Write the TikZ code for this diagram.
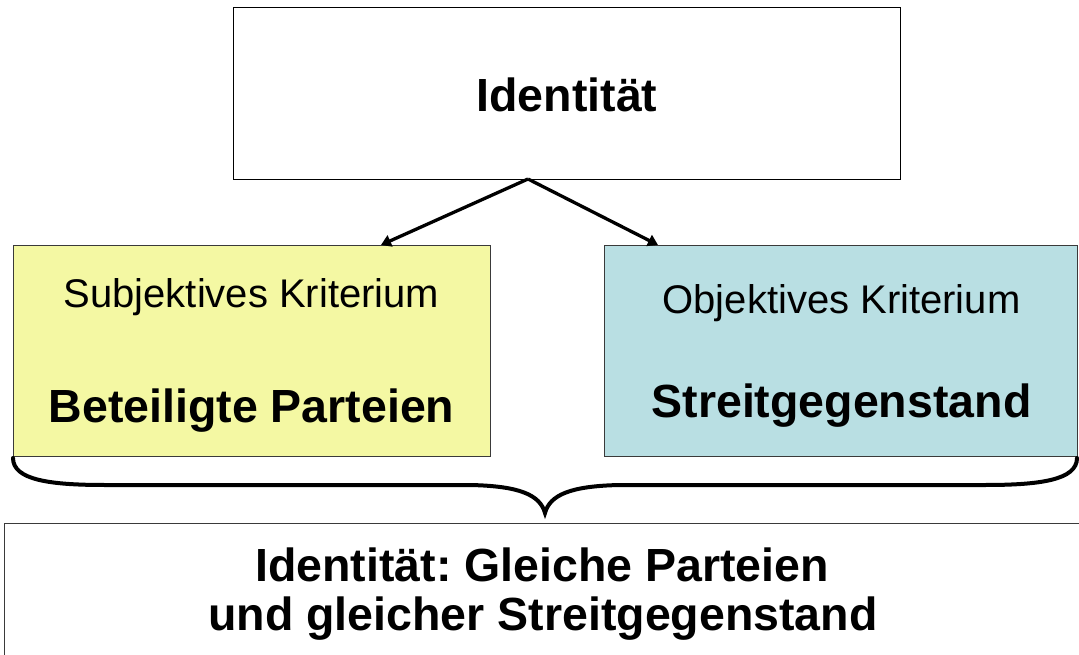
\documentclass[tikz,border=0pt]{standalone}
\usepackage{fontspec}
\setmainfont{Liberation Sans}
\usetikzlibrary{arrows.meta}
\frenchspacing
\definecolor{boxyellow}{HTML}{F4F8A3}
\definecolor{boxblue}{HTML}{B9DFE3}
\definecolor{edgegray}{HTML}{3A3A3A}
\tikzset{
  box/.style={draw=edgegray, line width=1.2pt, inner sep=0pt, anchor=north west},
  bigbold/.style={font=\fontsize{46.5}{50}\selectfont\bfseries, inner sep=0pt, anchor=base},
  normaltxt/.style={font=\fontsize{40}{44}\selectfont, inner sep=0pt, anchor=base},
  conn/.style={line width=3.3pt, -{Triangle[length=10pt,width=12pt]}},
  bracepath/.style={line width=4pt, line cap=round}
}
\begin{document}
\begin{tikzpicture}[x=1pt,y=-1pt]
\useasboundingbox[fill=white] (0,0) rectangle (1079,655);
% boxes
\node[box, draw=black, fill=white, minimum width=667pt, minimum height=172pt] (top) at (233,7) {};
\node[box, fill=boxyellow, minimum width=477pt, minimum height=211pt] (left) at (13,245) {};
\node[box, fill=boxblue, minimum width=473pt, minimum height=211pt] (right) at (604,245) {};
\node[box, fill=white, minimum width=1090pt, minimum height=150pt] (bottom) at (4,523) {};
% texts
\node[bigbold] (ttop) at (567,112) {Identität};
\node[normaltxt] (lsub) at (251.5,307) {Subjektives Kriterium};
\node[bigbold] (lmain) at (251.5,422) {Beteiligte Parteien};
\node[normaltxt] (rsub) at (841.5,313) {Objektives Kriterium};
\node[bigbold] (rmain) at (841.5,417) {Streitgegenstand};
\node[bigbold] (b1) at (542,581) {Identität: Gleiche Parteien};
\node[bigbold] (b2) at (543,630) {und gleicher Streitgegenstand};
% arrows
\coordinate (src) at (528,179);
\coordinate (ltip) at (381,245);
\coordinate (rtip) at (658,245);
\draw[conn] (src) -- (ltip);
\draw[conn] (src) -- (rtip);
% brace
\coordinate (bl) at (13,458);
\coordinate (btip) at (545,513);
\coordinate (br) at (1077,458);
\draw[bracepath] (bl) .. controls (13,480) and (50,485) .. (105,485)
  -- (470,485) .. controls (520,486) and (540,495) .. (btip)
  .. controls (550,495) and (570,486) .. (620,485)
  -- (985,485) .. controls (1040,485) and (1077,480) .. (br);
\end{tikzpicture}
\end{document}
